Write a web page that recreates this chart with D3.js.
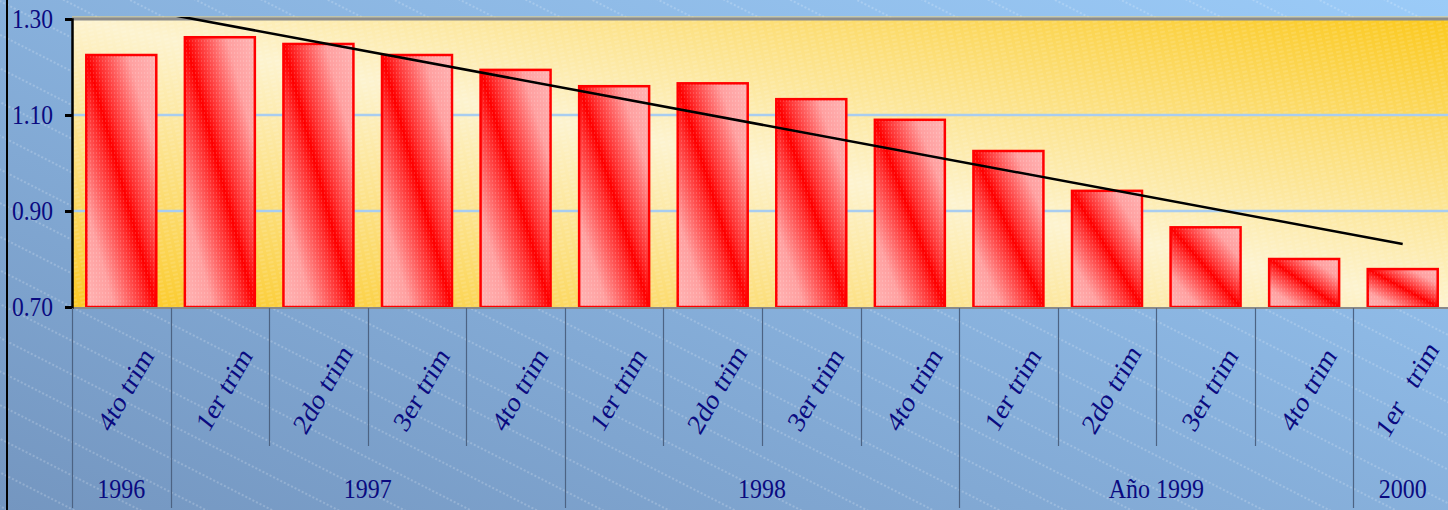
<!DOCTYPE html>
<meta charset="utf-8">
<style>
    body { margin: 0; background: #fff; }
    svg { display: block; }
    .lbl { font-family: "Liberation Serif", "Times New Roman", serif; fill: #0a0a80; }
</style>
<body>
<svg id="chart" width="1448" height="510"></svg>
<script src="https://cdnjs.cloudflare.com/ajax/libs/d3/7.8.5/d3.min.js"></script>
<script>
    // values
    var categories = ["4to trim", "1er trim", "2do trim", "3er trim", "4to trim", "1er trim", "2do trim",
        "3er trim", "4to trim", "1er trim", "2do trim", "3er trim", "4to trim", "1er   trim"];
    var values = [1.225, 1.262, 1.248, 1.225, 1.194, 1.160, 1.166, 1.133, 1.090, 1.025, 0.942, 0.866, 0.800, 0.779];
    var yearLabels = ["1996", "1997", "1998", "Año 1999", "2000"];
    var yearSpans = [1, 4, 4, 4, 1];
    var yTicks = [0.70, 0.90, 1.10, 1.30];

    var svg = d3.select("#chart"),
        width = +svg.attr("width"),
        height = +svg.attr("height");

    var plot = { left: 72, right: 1452, top: 19, bottom: 307 };
    var idx = d3.range(categories.length);

    var xCell = d3.scaleBand().domain(idx).range([plot.left, plot.right]).padding(0);
    var xBar = d3.scaleBand().domain(idx).range([plot.left, plot.right])
        .paddingInner(0.29).paddingOuter(0.145);
    var y = d3.scaleLinear().domain([0.70, 1.30]).range([plot.bottom, plot.top]);

    var defs = svg.append("defs");

    var bgGrad = defs.append("linearGradient").attr("id", "bgGrad")
        .attr("x1", 0).attr("y1", 1).attr("x2", 1).attr("y2", 0);
    bgGrad.append("stop").attr("offset", 0).attr("stop-color", "#7496c0");
    bgGrad.append("stop").attr("offset", 1).attr("stop-color", "#9bcbf8");

    var hatch = defs.append("pattern").attr("id", "hatch")
        .attr("patternUnits", "userSpaceOnUse").attr("width", 40).attr("height", 30)
        .attr("patternTransform", "rotate(27)");
    hatch.append("line").attr("x1", 0).attr("y1", 1).attr("x2", 40).attr("y2", 1)
        .attr("stroke", "#ffffff").attr("stroke-opacity", 0.4).attr("stroke-width", 1)
        .attr("stroke-dasharray", "2,2");

    var plotGrad = defs.append("linearGradient").attr("id", "plotGrad")
        .attr("x1", 0).attr("y1", 1).attr("x2", 1).attr("y2", 0);
    plotGrad.append("stop").attr("offset", 0).attr("stop-color", "#fbc925");
    plotGrad.append("stop").attr("offset", 0.5).attr("stop-color", "#fdf3cf");
    plotGrad.append("stop").attr("offset", 1).attr("stop-color", "#fbc91e");

    var wave = defs.append("pattern").attr("id", "wave")
        .attr("patternUnits", "userSpaceOnUse").attr("width", 8).attr("height", 4)
        .attr("patternTransform", "rotate(-12)");
    wave.append("line").attr("x1", 0).attr("y1", 1).attr("x2", 5).attr("y2", 1)
        .attr("stroke", "#ffffff").attr("stroke-opacity", 0.25).attr("stroke-width", 1);

    var barGrad = defs.append("linearGradient").attr("id", "barGrad")
        .attr("x1", 0).attr("y1", 1).attr("x2", 1).attr("y2", 0);
    [[0, "#ffb4b4"], [0.2, "#ffa0a0"], [0.42, "#ff3030"], [0.5, "#ff0000"],
        [0.58, "#ff3030"], [0.8, "#ffa0a0"], [1, "#ffb4b4"]].forEach(function (s) {
        barGrad.append("stop").attr("offset", s[0]).attr("stop-color", s[1]);
    });

    var dots = defs.append("pattern").attr("id", "dots")
        .attr("patternUnits", "userSpaceOnUse").attr("width", 3).attr("height", 4);
    dots.append("rect").attr("width", 1).attr("height", 2)
        .attr("fill", "#ffffff").attr("fill-opacity", 0.15);

    defs.append("clipPath").attr("id", "plotClip").append("rect")
        .attr("x", plot.left).attr("y", plot.top - 2)
        .attr("width", plot.right - plot.left).attr("height", plot.bottom - plot.top + 2);

    // outer background
    svg.append("rect").attr("width", width).attr("height", height).attr("fill", "url(#bgGrad)");
    svg.append("rect").attr("width", width).attr("height", height).attr("fill", "url(#hatch)");
    svg.append("line").attr("x1", 7).attr("x2", 7).attr("y1", 0).attr("y2", height)
        .attr("stroke", "#000").attr("stroke-width", 2);

    // plot area
    svg.append("rect").attr("x", plot.left).attr("y", plot.top)
        .attr("width", plot.right - plot.left).attr("height", plot.bottom - plot.top)
        .attr("fill", "url(#plotGrad)");
    svg.append("rect").attr("x", plot.left).attr("y", plot.top)
        .attr("width", plot.right - plot.left).attr("height", plot.bottom - plot.top)
        .attr("fill", "url(#wave)");

    // gridlines
    svg.append("g").selectAll("line")
        .data(yTicks.filter(function (d) { return d > 0.70 && d < 1.30; }))
        .enter().append("line")
        .attr("x1", plot.left).attr("x2", plot.right)
        .attr("y1", function (d) { return y(d); }).attr("y2", function (d) { return y(d); })
        .attr("stroke", "#a9cdf0").attr("stroke-width", 2.5);

    // top border
    svg.append("line").attr("x1", plot.left).attr("x2", plot.right)
        .attr("y1", y(1.30) - 2).attr("y2", y(1.30) - 2)
        .attr("stroke", "#f3d27a").attr("stroke-width", 1);
    svg.append("line").attr("x1", plot.left).attr("x2", plot.right)
        .attr("y1", y(1.30)).attr("y2", y(1.30))
        .attr("stroke", "#8c8c8c").attr("stroke-width", 3);

    // bars
    var bars = svg.append("g");
    bars.selectAll("rect.bar")
        .data(values).enter().append("rect").attr("class", "bar")
        .attr("x", function (d, i) { return xBar(i); })
        .attr("y", function (d) { return y(d); })
        .attr("width", xBar.bandwidth())
        .attr("height", function (d) { return y(0.70) - y(d); })
        .attr("fill", "url(#barGrad)")
        .attr("stroke", "#ff0000").attr("stroke-width", 2.5);
    bars.selectAll("rect.tex")
        .data(values).enter().append("rect").attr("class", "tex")
        .attr("x", function (d, i) { return xBar(i) + 1; })
        .attr("y", function (d) { return y(d) + 1; })
        .attr("width", xBar.bandwidth() - 2)
        .attr("height", function (d) { return y(0.70) - y(d) - 2; })
        .attr("fill", "url(#dots)");

    // linear trend line (least squares over category index)
    var mx = d3.mean(idx), my = d3.mean(values);
    var sxy = d3.sum(idx, function (i) { return (i - mx) * (values[i] - my); });
    var sxx = d3.sum(idx, function (i) { return (i - mx) * (i - mx); });
    var slope = sxy / sxx, icpt = my - slope * mx;
    var trend = [0, categories.length - 1].map(function (i) { return [i, icpt + slope * i]; });
    svg.append("path")
        .datum(trend)
        .attr("clip-path", "url(#plotClip)")
        .attr("fill", "none").attr("stroke", "#000").attr("stroke-width", 2.5)
        .attr("d", d3.line()
            .x(function (d) { return xCell(d[0]) + xCell.bandwidth() / 2; })
            .y(function (d) { return y(d[1]); }));

    // bottom axis line
    svg.append("line").attr("x1", plot.left).attr("x2", plot.right)
        .attr("y1", plot.bottom + 1).attr("y2", plot.bottom + 1)
        .attr("stroke", "#8a8a8a").attr("stroke-width", 2);

    // left axis
    var yAxis = svg.append("g")
        .attr("transform", "translate(" + plot.left + ",0)")
        .call(d3.axisLeft(y).tickValues(yTicks).tickFormat(d3.format(".2f"))
            .tickSize(7).tickPadding(12));
    yAxis.select(".domain").attr("stroke", "#000").attr("stroke-width", 2.5);
    yAxis.selectAll(".tick line").attr("stroke", "#000").attr("stroke-width", 3);
    yAxis.selectAll(".tick text")
        .attr("class", "lbl")
        .style("font-size", "23.5px")
        .attr("dy", null)
        .attr("transform", "translate(0,8) scale(1,1.2)");

    // category separators
    var yearStart = [];
    var acc = 0;
    yearSpans.forEach(function (s) { yearStart.push(acc); acc += s; });
    svg.append("g").selectAll("line")
        .data(idx).enter().append("line")
        .attr("x1", function (i) { return Math.round(xCell(i)) + 0.5; })
        .attr("x2", function (i) { return Math.round(xCell(i)) + 0.5; })
        .attr("y1", plot.bottom + 1)
        .attr("y2", function (i) { return yearStart.indexOf(i) >= 0 ? 508 : 446; })
        .attr("stroke", "#4d6383").attr("stroke-width", 1.2);

    // category labels
    svg.append("g").selectAll("text")
        .data(categories).enter().append("text")
        .attr("class", "lbl")
        .style("font-size", "25px")
        .style("white-space", "pre")
        .attr("text-anchor", "middle")
        .attr("transform", function (d, i) {
            return "translate(" + (xCell(i) + xCell.bandwidth() / 2 + 4) + ",389) scale(1,1.17) rotate(-56)";
        })
        .attr("dy", "0.35em")
        .text(function (d) { return d; });

    // year labels
    svg.append("g").selectAll("text")
        .data(yearLabels).enter().append("text")
        .attr("class", "lbl")
        .style("font-size", "24px")
        .attr("text-anchor", "middle")
        .attr("transform", function (d, i) {
            var a = xCell(yearStart[i]), b = xCell(yearStart[i] + yearSpans[i] - 1) + xCell.bandwidth();
            return "translate(" + ((a + b) / 2) + ",498) scale(1,1.17)";
        })
        .text(function (d) { return d; });
</script>
</body>
